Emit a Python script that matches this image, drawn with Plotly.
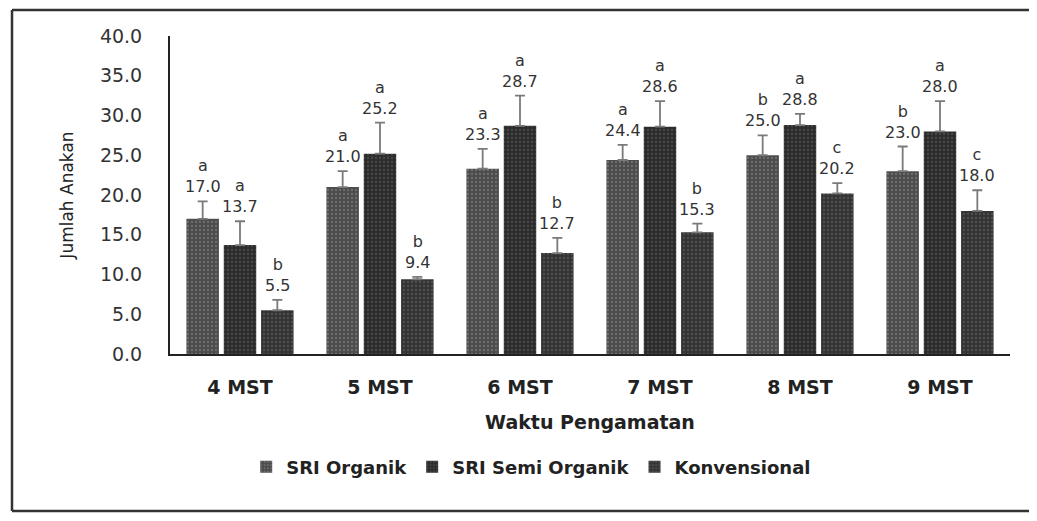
import plotly.graph_objects as go

categories = ["4 MST", "5 MST", "6 MST", "7 MST", "8 MST", "9 MST"]
series_names = ["SRI Organik", "SRI Semi Organik", "Konvensional"]
sri_organik = [17.0, 21.0, 23.3, 24.4, 25.0, 23.0]
sri_semi_organik = [13.7, 25.2, 28.7, 28.6, 28.8, 28.0]
konvensional = [5.5, 9.4, 12.7, 15.3, 20.2, 18.0]
err_organik = [2.2, 2.0, 2.5, 1.9, 2.5, 3.1]
err_semi = [3.0, 3.9, 3.8, 3.2, 1.4, 3.8]
err_konv = [1.3, 0.3, 1.9, 1.1, 1.3, 2.6]
let_organik = ["a", "a", "a", "a", "b", "b"]
let_semi = ["a", "a", "a", "a", "a", "a"]
let_konv = ["b", "b", "b", "b", "c", "c"]

values = [sri_organik, sri_semi_organik, konvensional]
errors = [err_organik, err_semi, err_konv]
letters = [let_organik, let_semi, let_konv]
bgcolors = ["#4c4c4c", "#2c2c2c", "#343434"]
fgcolors = ["#929292", "#666666", "#6c6c6c"]

# page body has an 8px margin, so the figure is sized to fit inside the window
W, H = 1021, 505
L, R, T, B = 162, 19, 28, 159
PW, PH = W - L - R, H - T - B
bargap, bargroupgap = 0.2, 0.13
cat_px = PW / len(categories)
slot = cat_px * (1 - bargap) / 3

fig = go.Figure()
for i, name in enumerate(series_names):
    fig.add_trace(go.Bar(
        name=name, x=categories, y=values[i],
        marker=dict(color=bgcolors[i], line=dict(width=0),
                    pattern=dict(shape=".", fgcolor=fgcolors[i], bgcolor=bgcolors[i],
                                 size=4, solidity=0.25)),
        error_y=dict(type="data", array=errors[i], arrayminus=[0] * len(categories),
                     symmetric=False, color="#7a7a7a", thickness=1.8, width=5),
    ))
    for j, c in enumerate(categories):
        fig.add_annotation(
            x=c, y=values[i][j] + errors[i][j], xref="x", yref="y",
            text=f"{letters[i][j]}<br>{values[i][j]:.1f}",
            showarrow=False, yanchor="bottom", xanchor="center",
            xshift=(i - 1) * slot, yshift=3,
            font=dict(family="DejaVu Sans", size=16, color="#333333"),
        )

# outer frame of the figure (top, left, bottom edges)
def px_x(v):
    return (v - L) / PW

def px_y(v):
    return (T + PH - v) / PH

frame = dict(color="#333333", width=2.5)
fig.add_shape(type="line", xref="paper", yref="paper",
              x0=px_x(4), x1=px_x(W), y0=px_y(2), y1=px_y(2), line=frame)
fig.add_shape(type="line", xref="paper", yref="paper",
              x0=px_x(4), x1=px_x(4), y0=px_y(2), y1=px_y(503), line=frame)
fig.add_shape(type="line", xref="paper", yref="paper",
              x0=px_x(4), x1=px_x(W), y0=px_y(503), y1=px_y(503), line=frame)

fig.update_layout(
    width=W, height=H,
    margin=dict(l=L, r=R, t=T, b=B),
    barmode="group", bargap=bargap, bargroupgap=bargroupgap,
    plot_bgcolor="white", paper_bgcolor="white",
    showlegend=True,
    legend=dict(orientation="h", x=0.43, xanchor="center", y=px_y(459), yanchor="middle",
                font=dict(family="DejaVu Sans", size=18, color="#222222", weight="bold"),
                traceorder="normal"),
    xaxis=dict(showline=True, linecolor="#222222", linewidth=2, ticks="",
               ticklabelstandoff=15,
               tickfont=dict(family="DejaVu Sans", size=19, color="#222222", weight="bold"),
               title=dict(text="Waktu Pengamatan", standoff=19,
                          font=dict(family="DejaVu Sans", size=19, color="#222222", weight="bold"))),
    yaxis=dict(range=[0, 40], dtick=5, tickformat=".1f", showgrid=False, zeroline=False,
               showline=True, linecolor="#222222", linewidth=2, ticks="",
               ticklabelstandoff=22,
               tickfont=dict(family="DejaVu Sans", size=19, color="#333333"),
               title=dict(text="Jumlah Anakan", standoff=22,
                          font=dict(family="DejaVu Sans", size=17, color="#222222"))),
)

fig.write_html("out.html")
